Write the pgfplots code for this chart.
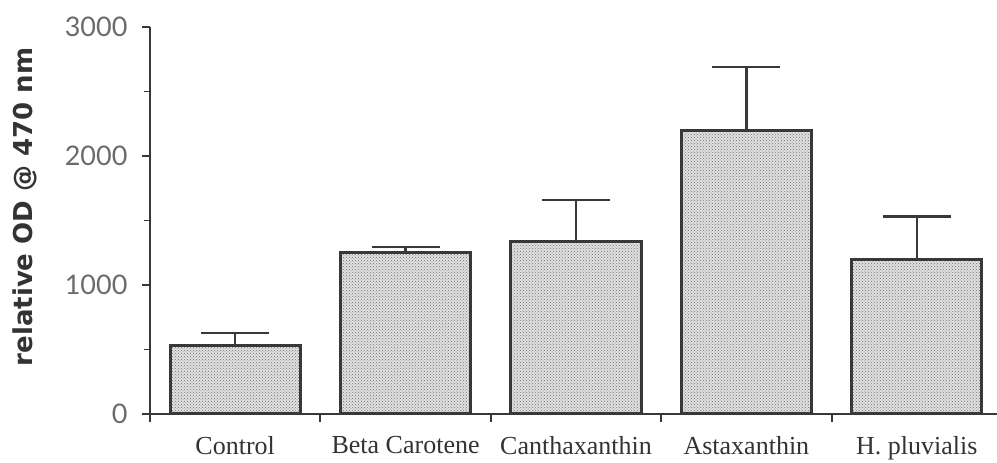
\documentclass[border=0pt]{standalone}
\usepackage{pgfplots}
\pgfplotsset{compat=1.18}
\usepackage{fontspec}
\setmainfont{Liberation Serif}
\newfontfamily\tickfont{Lato}
\newfontfamily\labfont{DejaVu Sans}
\usetikzlibrary{patterns}
\definecolor{ink}{gray}{0.22}
\begin{document}
\begin{tikzpicture}
\path[use as bounding box] (-150pt,-49pt) rectangle (847pt,414pt);
\begin{axis}[
  at={(0,0)}, anchor=south west,
  scale only axis, width=852pt, height=387pt,
  xmin=-0.5, xmax=4.5, ymin=0, ymax=3000,
  axis x line=bottom, axis y line=left,
  axis line style={-, ink, line width=2.2pt},
  y axis line style={shorten <=-7pt},
  ytick={0,1000,2000,3000}, minor ytick={500,1500,2500},
  tick align=outside, major tick length=8pt, minor tick length=6pt,
  tick style={ink, line width=1.8pt},
  xtick={-0.5,0.5,1.5,2.5,3.5,4.5},
  x tick label as interval,
  xticklabels={Control, Beta Carotene, Canthaxanthin, Astaxanthin, H. pluvialis},
  x tick label style={font=\fontsize{26}{30}\selectfont, text=black!80, yshift=-11pt},
  y tick label style={font=\tickfont\fontsize{27}{30}\selectfont, text=black!58, xshift=-11pt},
  /pgf/number format/assume math mode=true,
  scaled y ticks=false,
  yticklabel={\pgfmathprintnumber[fixed, 1000 sep={}]{\tick}},
  ylabel={relative OD @ 470 nm},
  ylabel style={font=\labfont\bfseries\fontsize{26}{30}\selectfont, text=black!80,
    at={(axis description cs:-0.147,0.535)}, anchor=center},
  ybar, bar width=130pt,
  clip=false,
]
\addplot[draw=ink, line width=3pt, fill=black!12,
  postaction={pattern=crosshatch dots, pattern color=black!55},
  error bars/.cd, y dir=plus, y explicit,
  error bar style={ink, line width=2.4pt},
  error mark options={rotate=90, mark size=34pt, ink, line width=2.4pt}]
coordinates {
  (0,528) +- (0,100)
  (1,1250) +- (0,45)
  (2,1335) +- (0,325)
  (3,2200) +- (0,490)
  (4,1195) +- (0,335)
};
\end{axis}
\end{tikzpicture}
\end{document}
